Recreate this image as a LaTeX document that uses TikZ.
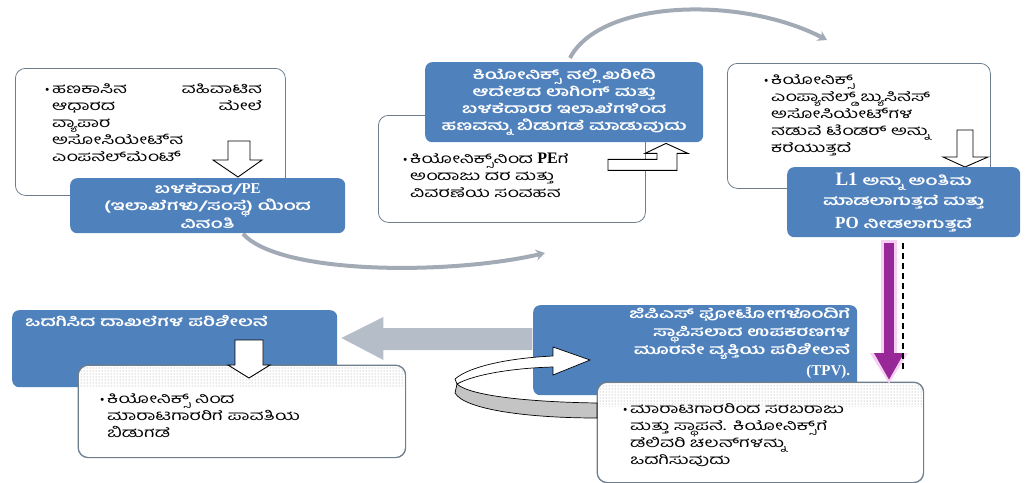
\documentclass[tikz,border=0pt]{standalone}
\usepackage{fontspec}
\setmainfont{Hind Mysuru}[Script=Kannada,FakeStretch=1.45]
\newfontfamily\lat{Liberation Serif}
\newfontfamily\bul{Liberation Sans}
\usetikzlibrary{calc,arrows.meta,patterns}
\definecolor{boxblue}{RGB}{79,129,189}
\definecolor{boxedge}{RGB}{110,125,140}
\definecolor{arcgray}{RGB}{162,170,182}
\definecolor{leftgray}{RGB}{181,189,200}
\definecolor{purp}{RGB}{152,40,152}
\definecolor{glow}{RGB}{246,208,242}
\definecolor{ribbon}{RGB}{196,196,196}
\newcommand\knsize{\fontsize{13.5}{17}\selectfont}
\newcommand\lb[2]{{\lat\bfseries\fontsize{#1}{17}\selectfont #2}}
\newcommand\bitem{\leftskip=9pt\noindent\llap{{\bul\fontsize{11}{17}\selectfont •}\hspace{3pt}}}
\tikzset{
  wbox/.style={draw=boxedge, line width=0.8pt, fill=white, rounded corners=10pt, anchor=north west, inner sep=0pt},
  bbox/.style={fill=boxblue, rounded corners=7pt, anchor=north west, inner sep=0pt},
  ktxt/.style={inner sep=0pt, font=\knsize, align=left, anchor=north west, text width=#1},
  btxt/.style={inner sep=0pt, font=\knsize\bfseries, text=white, align=center},
  hollow/.style={draw=black, line width=0.9pt, fill=white, line join=miter},
  arcline/.style={draw=arcgray, line width=4pt, -{Stealth[length=9pt,width=11pt]}},
}
\begin{document}
\begin{tikzpicture}[x=1pt,y=-1pt]
\useasboundingbox (0,0) rectangle (1033,482);

% ---------- top left
\node[wbox, minimum width=270pt, minimum height=127pt] (A) at (15,68) {};
\node[ktxt=219pt] (At) at (43,83) {\bitem ಹಣಕಾಸಿನ\hfill ವಹಿವಾಟಿನ\\ ಆಧಾರದ\hfill ಮೇಲೆ\\ ವ್ಯಾಪಾರ\\ ಅಸೋಸಿಯೇಟ್‌ನ\\ ಎಂಪನೆಲ್‌ಮೆಂಟ್\par};
\draw[arcline] ($(A.south west)+(228,38)$) .. controls (280,275) and (450,275) .. (545,253) coordinate (bcend);
\node[bbox, minimum width=275pt, minimum height=55pt] (B) at (70,178) {};
\coordinate (ab) at ($(B.north west)+(168,-1)$);
\draw[hollow] (ab) -- ++(-25,-17) -- ++(15,0) -- ++(0,-19) -- ++(22,0) -- ++(0,19) -- ++(12,0) -- cycle;
\node[btxt] (Bt) at (B.center) {ಬಳಕೆದಾರ/\lb{15}{PE}\\(ಇಲಾಖೆಗಳು/ಸಂಸ್ಥೆ) ಯಿಂದ\\ವಿನಂತಿ};

% ---------- top middle
\node[wbox, minimum width=267pt, minimum height=107pt] (C) at (378,115) {};
\node[ktxt=230pt] (Ct) at (401,153) {\bitem ಕಿಯೋನಿಕ್ಸ್‌ನಿಂದ \lb{16}{PE}ಗೆ\\ ಅಂದಾಜು ದರ ಮತ್ತು\\ ವಿವರಣೆಯ ಸಂವಹನ\par};
\node[bbox, minimum width=278pt, minimum height=80pt] (D) at (425,62) {};
\node[btxt] (Dt) at (D.center) {ಕಿಯೋನಿಕ್ಸ್ ನಲ್ಲಿ ಖರೀದಿ\\ಆದೇಶದ ಲಾಗಿಂಗ್ ಮತ್ತು\\ಬಳಕೆದಾರರ ಇಲಾಖೆಗಳಿಂದ\\ಹಣವನ್ನು ಬಿಡುಗಡೆ ಮಾಡುವುದು};
\coordinate (cd) at ($(D.south west)+(241,1)$);
\draw[hollow] (cd) -- ++(22,10) -- ++(-11,0) -- ++(0,17) -- ++(-69,0) -- ++(0,-11) -- ++(49,0) -- ++(0,-6) -- ++(-12,0) -- cycle;

% ---------- top right
\node[wbox, minimum width=263pt, minimum height=125pt] (E) at (727,63) {};
\node[ktxt=210pt] (Et) at (762,74) {\bitem ಕಿಯೋನಿಕ್ಸ್\\ ಎಂಪ್ಯಾನೆಲ್ಡ್ ಬ್ಯುಸಿನೆಸ್\\ ಅಸೋಸಿಯೇಟ್‌ಗಳ\\ ನಡುವೆ ಟೆಂಡರ್ ಅನ್ನು\\ ಕರೆಯುತ್ತದೆ\par};
\draw[arcline] ($(D.north west)+(145,-4)$) .. controls (600,0) and (740,-5) .. ($(E.north west)+(100,-23)$);
\coordinate (ef) at ($(E.north west)+(238,104)$);
\draw[hollow] (ef) -- ++(-22,-10) -- ++(14,0) -- ++(0,-27) -- ++(16,0) -- ++(0,27) -- ++(15,0) -- cycle;
\node[bbox, minimum width=233pt, minimum height=70pt] (F) at (787,167) {};
\node[btxt, font=\fontsize{13.5}{20}\selectfont\bfseries] (Ft) at (F.center) {\lb{19}{L1} ಅನ್ನು ಅಂತಿಮ\\ಮಾಡಲಾಗುತ್ತದೆ ಮತ್ತು\\[3pt]\lb{17}{PO} ನೀಡಲಾಗುತ್ತದೆ};

% ---------- bottom right
\node[bbox, minimum width=324pt, minimum height=90pt] (I) at (533,305) {};
\node[btxt, font=\fontsize{13.5}{17.5}\selectfont\bfseries, align=right, anchor=east] (It) at ($(I.north east)+(-7,38)$) {ಜಿಪಿಎಸ್ ಫೋಟೋಗಳೊಂದಿಗೆ\\ಸ್ಥಾಪಿಸಲಾದ ಉಪಕರಣಗಳ\\ಮೂರನೇ ವ್ಯಕ್ತಿಯ ಪರಿಶೀಲನೆ\\[3pt]\lb{15}{(TPV).}};
\node[wbox, minimum width=326pt, minimum height=100pt] (J) at (597,382) {};
\begin{scope}
  \clip[rounded corners=10pt] (J.north west) rectangle (J.south east);
  \fill[pattern=dots, pattern color=gray!80] (J.north west) rectangle ($(J.north east)+(0,24)$);
\end{scope}
\draw[boxedge, line width=0.8pt, rounded corners=10pt] (J.north west) rectangle (J.south east);
\node[ktxt=300pt] (Jt) at (621,403) {\bitem ಮಾರಾಟಗಾರರಿಂದ ಸರಬರಾಜು\\ ಮತ್ತು ಸ್ಥಾಪನೆ. ಕಿಯೋನಿಕ್ಸ್‌ಗೆ\\ ಡೆಲಿವರಿ ಚಲನ್‌ಗಳನ್ನು\\ ಒದಗಿಸುವುದು\par};
% purple arrow
\draw[glow, line width=16pt, -{Triangle[length=31pt,width=36pt]}] ($(F.south west)+(102,3)$) -- ($(J.north west)+(292,2)$);
\draw[purp, line width=10pt, -{Triangle[length=27pt,width=28pt]}] ($(F.south west)+(102,6)$) -- ($(J.north west)+(292,-2)$);
\draw[black, line width=2.8pt, dash pattern=on 6pt off 4pt] ($(F.south west)+(116,6)$) -- ($(J.north west)+(306,-10)$);
% circular arrow
\path (J.north west) ++(0,21) coordinate (cr);
\begin{scope}[shift={(cr)}]
  \filldraw[fill=ribbon, draw=black, line width=0.7pt] (0,0) .. controls (-67,-1) and (-127,-7) .. (-140,-19) -- (-142,-10) .. controls (-132,7) and (-67,15) .. (0,15) -- cycle;
  \filldraw[fill=white, draw=black, line width=0.7pt, line join=miter] (-142,-24) .. controls (-127,-37) and (-87,-45) .. (-44,-47) -- (-44,-56) -- (-7,-43) -- (-44,-28) -- (-44,-36) .. controls (-82,-35) and (-122,-29) .. (-140,-19) -- cycle;
\end{scope}

% ---------- bottom left
\node[bbox, minimum width=325pt, minimum height=77pt] (G) at (12,310) {};
\node[btxt, align=left, anchor=west] (Gt) at ($(G.north west)+(13,11)$) {ಒದಗಿಸಿದ ದಾಖಲೆಗಳ ಪರಿಶೀಲನೆ};
\fill[leftgray] ($(G.north east)+(4,28)$) coordinate (gt) -- ++(42,-21) -- ++(0,11) -- ++(149,0) -- ++(0,22) -- ++(-149,0) -- ++(0,10) -- cycle;
\node[wbox, minimum width=327pt, minimum height=92pt] (H) at (78,365) {};
\begin{scope}
  \clip[rounded corners=10pt] (H.north west) rectangle (H.south east);
  \fill[pattern=dots, pattern color=gray!80] (H.north west) rectangle ($(H.north east)+(0,22)$);
\end{scope}
\draw[boxedge, line width=0.8pt, rounded corners=10pt] (H.north west) rectangle (H.south east);
\node[ktxt=290pt] (Ht) at (98,393) {\bitem ಕಿಯೋನಿಕ್ಸ್ ನಿಂದ\\ ಮಾರಾಟಗಾರರಿಗೆ ಪಾವತಿಯ\\ ಬಿಡುಗಡೆ\par};
\coordinate (gh) at ($(H.north west)+(171,13)$);
\draw[hollow] (gh) -- ++(-21,-13) -- ++(7,0) -- ++(0,-25) -- ++(28,0) -- ++(0,25) -- ++(7,0) -- cycle;
\end{tikzpicture}
\end{document}
